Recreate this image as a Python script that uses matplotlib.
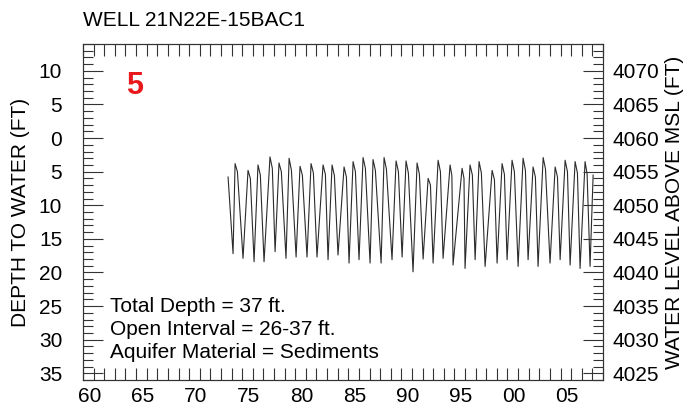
import numpy as np
import matplotlib
matplotlib.use('Agg')
import matplotlib.pyplot as plt
from matplotlib.ticker import MultipleLocator, FixedLocator, FuncFormatter
from matplotlib.transforms import ScaledTranslation

plt.rcParams['font.family'] = ['Liberation Sans', 'DejaVu Sans']

WELL = 'WELL 21N22E-15BAC1'
LAND_SURFACE = 4060  # ft above MSL

# seasonal lows (winter), depth below land surface in ft
trough_years = [1973.14, 1974.08, 1975.12, 1976.06, 1977.10, 1978.13, 1979.08, 1980.11,
                1981.05, 1982.09, 1983.03, 1984.07, 1985.01, 1986.05, 1987.09, 1988.12,
                1989.07, 1990.10, 1991.05, 1991.99, 1992.93, 1993.87, 1995.00, 1995.95,
                1996.89, 1998.02, 1998.96, 2000.00, 2000.94, 2001.88, 2003.01, 2003.96,
                2004.90, 2005.84, 2006.78]
trough_depths = [17.2, 17.9, 18.4, 18.4, 16.9, 17.9, 17.7, 17.7,
                 17.7, 18.1, 17.4, 18.6, 18.1, 18.6, 18.6, 18.1,
                 17.7, 19.9, 18.0, 18.6, 17.9, 18.9, 19.4, 18.1,
                 19.1, 18.6, 18.1, 19.1, 18.1, 19.1, 18.6, 18.1,
                 18.9, 19.4, 19.1]
# summer highs during irrigation season
peak_years = [1973.33, 1974.55, 1975.49, 1976.62, 1977.47, 1978.42, 1979.45, 1980.49,
              1981.62, 1982.47, 1983.60, 1984.45, 1985.39, 1986.33, 1987.37, 1988.50,
              1989.44, 1990.48, 1991.52, 1992.46, 1993.59, 1994.72, 1995.47, 1996.32,
              1997.55, 1998.49, 1999.43, 2000.47, 2001.41, 2002.36, 2003.49, 2004.43,
              2005.37, 2006.31]
peak_depths = [3.8, 4.8, 4.0, 2.8, 3.7, 3.0, 4.2, 3.8,
               4.0, 4.0, 4.3, 3.5, 2.9, 3.2, 2.9, 3.4,
               3.4, 3.7, 6.0, 3.3, 4.0, 4.5, 4.0, 3.5,
               4.8, 3.8, 3.3, 3.0, 4.3, 2.9, 4.3, 3.3,
               3.5, 3.5]
# last high reading before the fall drawdown
hold_years = [1973.55, 1974.77, 1975.71, 1976.84, 1977.69, 1978.64, 1979.67, 1980.71,
              1981.84, 1982.69, 1983.82, 1984.67, 1985.61, 1986.55, 1987.59, 1988.72,
              1989.66, 1990.70, 1991.74, 1992.68, 1993.76, 1994.90, 1995.69, 1996.54,
              1997.77, 1998.71, 1999.65, 2000.69, 2001.63, 2002.58, 2003.71, 2004.65,
              2005.59, 2006.50]
hold_depths = [5.0, 6.0, 5.5, 4.5, 5.0, 4.8, 5.5, 5.2,
               5.4, 5.6, 5.8, 5.0, 4.5, 4.8, 4.6, 5.0,
               5.2, 5.4, 7.0, 5.0, 5.6, 6.0, 5.5, 5.2,
               6.2, 5.4, 5.0, 4.8, 5.8, 4.6, 5.8, 5.0,
               5.2, 5.3]
first_obs = (1972.67, 5.8)
last_obs = (2007.07, 5.5)

info_lines = ['Total Depth = 37 ft.',
              'Open Interval = 26-37 ft.',
              'Aquifer Material = Sediments']

# build the hydrograph: first reading, then low / high / end of high for each year
years = [first_obs[0]]
depths = [first_obs[1]]
for i in range(len(trough_years)):
    years.append(trough_years[i])
    depths.append(trough_depths[i])
    if i < len(peak_years):
        years += [peak_years[i], hold_years[i]]
        depths += [peak_depths[i], hold_depths[i]]
years.append(last_obs[0])
depths.append(last_obs[1])

FS = 15

fig = plt.figure(figsize=(6.92, 4.09), dpi=100)
ax = fig.add_axes([83 / 692, 1 - 380 / 409, 520 / 692, 336 / 409])

ax.plot(years, depths, color='#2b2b2b', lw=0.8)

ax.set_xlim(1959, 2008)
ax.set_ylim(36, -14)

# depth axis (left)
ax.yaxis.set_major_locator(MultipleLocator(5))
ax.yaxis.set_minor_locator(MultipleLocator(1))
ax.yaxis.set_major_formatter(FuncFormatter(lambda v, p: f'{abs(int(round(v)))}'))
ax.tick_params(axis='y', which='major', direction='in', length=14.4, width=0.8,
               left=True, right=False, labelsize=FS, pad=15, color='#333333')
ax.tick_params(axis='y', which='minor', direction='in', length=7.2, width=0.8,
               left=True, right=False, color='#333333')

# year axis
ax.xaxis.set_major_locator(FixedLocator(np.arange(1960, 2006, 5)))
ax.xaxis.set_minor_locator(MultipleLocator(1))
ax.xaxis.set_major_formatter(FuncFormatter(lambda v, p: f'{int(round(v)) % 100:02d}'))
ax.tick_params(axis='x', which='both', direction='in', length=8.6, width=0.8,
               top=True, bottom=True, color='#333333')
ax.tick_params(axis='x', which='major', labelsize=FS, pad=5)
shift = ScaledTranslation(-4 / 100, 0, fig.dpi_scale_trans)
for lab in ax.get_xticklabels():
    lab.set_transform(lab.get_transform() + shift)

ax.set_ylabel('DEPTH TO WATER (FT)', fontsize=FS, labelpad=6)

# elevation axis (right)
ax2 = ax.twinx()
ax2.set_ylim(LAND_SURFACE - 36, LAND_SURFACE + 14)
ax2.yaxis.set_major_locator(MultipleLocator(5))
ax2.yaxis.set_minor_locator(MultipleLocator(1))
ax2.tick_params(axis='y', which='major', direction='in', length=14.4, width=0.8,
                labelsize=FS, pad=7, color='#333333')
ax2.tick_params(axis='y', which='minor', direction='in', length=7.2, width=0.8,
                color='#333333')
ax2.set_ylabel('WATER LEVEL ABOVE MSL (FT)', fontsize=FS, labelpad=4)

for a in (ax, ax2):
    for s in a.spines.values():
        s.set_linewidth(0.8)
        s.set_color('#333333')

fig.text(83 / 692, 1 - 20 / 409, WELL, fontsize=FS, ha='left', va='center')

ax.text(0.1, 0.875, '5', transform=ax.transAxes, color='#e8191c', fontsize=22,
        fontweight='bold', ha='center', va='center')

base_y = [312, 335, 358]
for line, yb in zip(info_lines, base_y):
    ax.text((110 - 83) / 520, 1 - (yb - 44) / 336, line, transform=ax.transAxes,
            fontsize=FS, ha='left', va='baseline')

fig.savefig('out.png', dpi=100)
